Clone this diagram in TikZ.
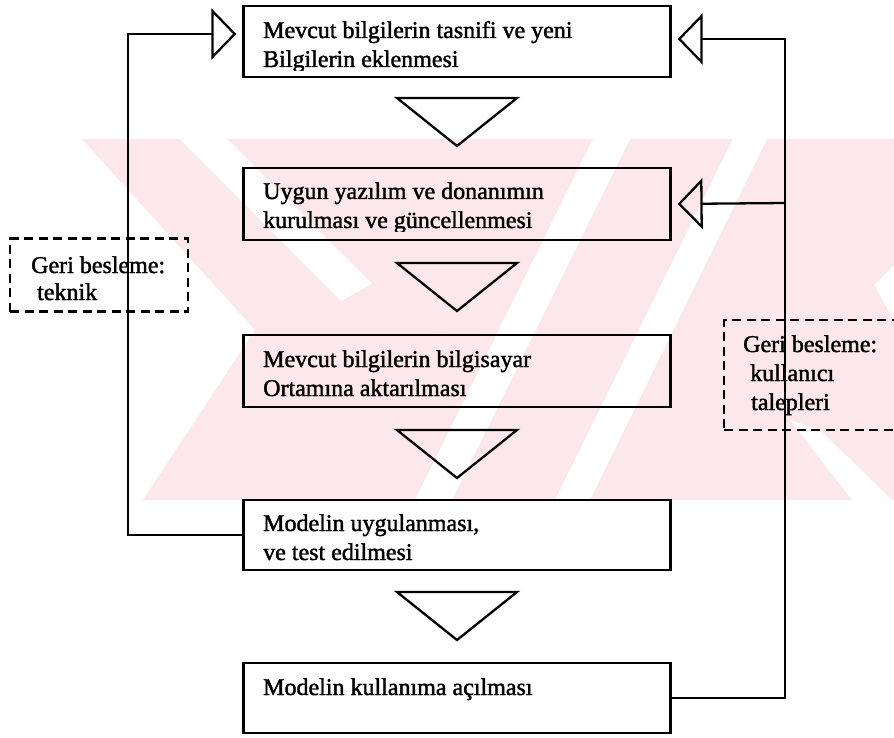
\documentclass[tikz,border=0pt]{standalone}
\usepackage{fontspec}
\setmainfont{Liberation Serif}[UprightFeatures={FakeBold=1.6}]
\usetikzlibrary{arrows.meta}
\definecolor{wm}{RGB}{252,232,236}
\begin{document}
\begin{tikzpicture}[x=1pt,y=-1pt,
  box/.style={draw, line width=2.3pt, minimum width=427pt, inner sep=0pt},
  txt/.style={anchor=base west, inner sep=0pt, font=\fontsize{24}{29}\selectfont},
  fb/.style={line width=2.3pt},
  dbox/.style={draw, line width=2.5pt, dash pattern=on 9pt off 5.5pt, inner sep=0pt},
  tip/.style={-{Triangle[open,length=25pt,width=51pt]}, shorten >=6pt},
  wmw/.style={fill=white, draw=none}
]
\useasboundingbox (0,0) rectangle (894,738);
\fill[white] (0,0) rectangle (894,738);
% watermark
\fill[wm] (82,139) -- (894,139) -- (894,265) -- (874,285) -- (894,321) -- (894,500) -- (143,500) -- (255,330) -- cycle;
\fill[wmw] (180,139) -- (227,139) -- (372,284) -- (341,301) -- cycle;
\fill[wmw] (593,139) -- (630,139) -- (452,500) -- (415,500) -- cycle;
\fill[wmw] (733,139) -- (767,139) -- (590,500) -- (555,500) -- cycle;
\fill[wmw] (790,420) -- (820,430) -- (892,500) -- (852,500) -- cycle;

% boxes
\node[box, minimum height=71pt] (B1) at (457,41.5) {};
\node[box, minimum height=72pt] (B2) at (457,204) {};
\node[box, minimum height=72pt] (B3) at (457,371) {};
\node[box, minimum height=70pt] (B4) at (457,535) {};
\node[box, minimum height=70pt] (B5) at (457,698) {};

% texts
\node[txt] (t11) at (263,38) {Mevcut bilgilerin tasnifi ve yeni};
\begin{scope}
\clip (240,40) rectangle (680,71);
\node[txt] (t12) at (263,67) {Bilgilerin eklenmesi};
\end{scope}
\node[txt] (t21) at (263,199) {Uygun yazılım ve donanımın};
\begin{scope}
\clip (240,205) rectangle (680,232);
\node[txt] (t22) at (263,228) {kurulması ve güncellenmesi};
\end{scope}
\node[txt] (t31) at (263,367) {Mevcut bilgilerin bilgisayar};
\node[txt] (t32) at (263,396) {Ortamına aktarılması};
\node[txt] (t41) at (263,531) {Modelin uygulanması,};
\node[txt] (t42) at (263,560) {ve test edilmesi};
\node[txt] (t51) at (263,695) {Modelin kullanıma açılması};

% down triangles
\foreach \t in {98,263,430,592}
  \draw[fb] (397,\t) -- (517,\t) -- (457,\t+48) -- cycle;

% dashed feedback boxes
\node[dbox, minimum width=178pt, minimum height=73pt] (D1) at (99,275) {};
\node[txt] (d11) at (31,273) {Geri besleme:};
\node[txt] (d12) at (37,300) {teknik};
\node[dbox, minimum width=200pt, minimum height=110pt] (D2) at (824,375) {};
\node[txt] (d21) at (743,352) {Geri besleme:};
\node[txt] (d22) at (750,381) {kullanıcı};
\node[txt] (d23) at (751,410) {talepleri};

% connectors
\coordinate (L1) at (128,34);
\coordinate (R1) at (785,39);
\coordinate (R2) at (785,203);
\draw[fb, tip] (B4.west) -| (L1) -- ([yshift=7.5pt]B1.west);
\draw[fb, tip] (B5.east) -| (R1) -- ([yshift=2.5pt]B1.east);
\draw[fb, tip] (R2) -- (B2.east);
\end{tikzpicture}
\end{document}
